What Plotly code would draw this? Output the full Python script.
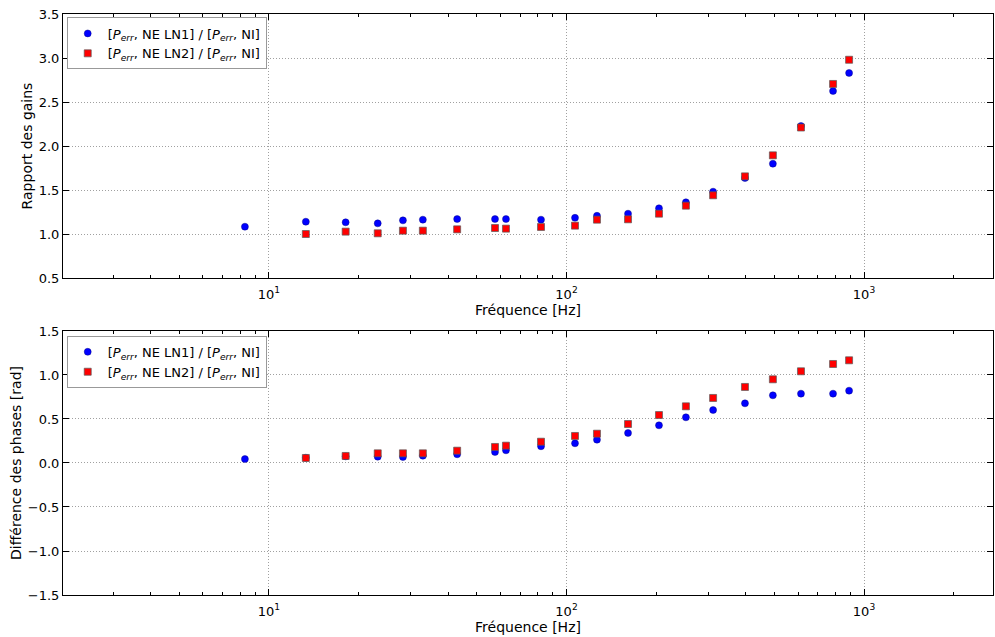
import plotly.graph_objects as go
from plotly.subplots import make_subplots

# Frequencies [Hz]
freq_ln1 = [8.3, 13.3, 18.1, 23.2, 28.2, 32.9, 42.9, 57.5, 62.6, 82.1, 106.8, 126.6,
            161, 204.6, 252, 311, 398, 494, 614, 787, 891]
freq_ln2 = freq_ln1[1:]

# Gain ratio
gain_ln1 = [1.083, 1.14, 1.133, 1.121, 1.155, 1.163, 1.17, 1.17, 1.17, 1.163, 1.184, 1.207,
            1.231, 1.292, 1.36, 1.481, 1.636, 1.799, 2.227, 2.625, 2.83]
gain_ln2 = [1.0, 1.027, 1.008, 1.038, 1.038, 1.053, 1.068, 1.061, 1.08, 1.095, 1.163,
            1.167, 1.231, 1.322, 1.44, 1.655, 1.894, 2.21, 2.705, 2.98]

# Phase difference [rad]
phase_ln1 = [0.045, 0.06, 0.075, 0.072, 0.068, 0.083, 0.099, 0.125, 0.144, 0.19, 0.224, 0.265,
             0.341, 0.428, 0.519, 0.602, 0.678, 0.769, 0.788, 0.788, 0.822]
phase_ln2 = [0.057, 0.08, 0.11, 0.11, 0.11, 0.14, 0.182, 0.197, 0.242, 0.307, 0.333,
             0.443, 0.545, 0.644, 0.739, 0.864, 0.951, 1.042, 1.125, 1.167]

# X tick labels
x_tickvals = [10, 100, 1000]
x_ticktext = ["10<sup>1</sup>", "10<sup>2</sup>", "10<sup>3</sup>"]

name1 = "[<i>P</i><sub><i>err</i></sub>, NE LN1] / [<i>P</i><sub><i>err</i></sub>, NI]"
name2 = "[<i>P</i><sub><i>err</i></sub>, NE LN2] / [<i>P</i><sub><i>err</i></sub>, NI]"

FONT = "DejaVu Sans"

fig = make_subplots(rows=2, cols=1, vertical_spacing=0.0912)

blue_marker = dict(symbol="circle", size=7, color="#0000ff", line=dict(width=0.7, color="rgba(0,0,120,0.6)"))
red_marker = dict(symbol="square", size=7, color="#ff0000", line=dict(width=1, color="rgba(90,90,90,0.7)"))

fig.add_trace(go.Scatter(x=freq_ln1, y=gain_ln1, mode="markers", marker=blue_marker,
                         name=name1, legend="legend"), row=1, col=1)
fig.add_trace(go.Scatter(x=freq_ln2, y=gain_ln2, mode="markers", marker=red_marker,
                         name=name2, legend="legend"), row=1, col=1)
fig.add_trace(go.Scatter(x=freq_ln1, y=phase_ln1, mode="markers", marker=blue_marker,
                         name=name1, legend="legend2"), row=2, col=1)
fig.add_trace(go.Scatter(x=freq_ln2, y=phase_ln2, mode="markers", marker=red_marker,
                         name=name2, legend="legend2"), row=2, col=1)

GRID = dict(showgrid=True, gridcolor="#a0a0a0", griddash="1px,2px", gridwidth=1)

xaxis_common = dict(
    type="log", range=[0.3076, 3.4336], tickvals=x_tickvals, ticktext=x_ticktext,
    showline=True, linecolor="black", linewidth=1, mirror="ticks",
    ticks="inside", ticklen=6, tickcolor="black", automargin=False, ticklabelstandoff=4,
    minor=dict(ticks="inside", ticklen=3, tickcolor="black", dtick="D1", showgrid=False),
    zeroline=False, tickfont=dict(family=FONT, size=13, color="black"),
    title=dict(text="Fréquence [Hz]", font=dict(family=FONT, size=14, color="black"), standoff=2),
    **GRID,
)
yaxis_common = dict(
    showline=True, linecolor="black", linewidth=1, mirror="ticks",
    ticks="inside", ticklen=6, tickcolor="black", dtick=0.5, tickformat=".1f",
    zeroline=False, tickfont=dict(family=FONT, size=13, color="black"), automargin=False,
    **GRID,
)

fig.update_xaxes(**xaxis_common, row=1, col=1)
fig.update_xaxes(**xaxis_common, row=2, col=1)
fig.update_yaxes(**yaxis_common, range=[0.5, 3.5],
                 title=dict(text="Rapport des gains", font=dict(family=FONT, size=14, color="black"), standoff=2),
                 row=1, col=1)
fig.update_yaxes(**yaxis_common, range=[-1.5, 1.5],
                 title=dict(text="Différence des phases [rad]", font=dict(family=FONT, size=14, color="black"), standoff=2),
                 row=2, col=1)

fig.update_xaxes(domain=[0, 1])
fig.layout.yaxis.domain = [0.5456, 1.0]
fig.layout.yaxis2.domain = [0.0, 0.4544]

legend_style = dict(bgcolor="white", bordercolor="#999999", borderwidth=1,
                    font=dict(family=FONT, size=13, color="black"),
                    xanchor="left", yanchor="top", tracegroupgap=0, itemwidth=30)
fig.update_layout(
    width=995, height=637,
    margin=dict(l=63, r=2, t=14, b=42, autoexpand=False),
    paper_bgcolor="white", plot_bgcolor="white",
    showlegend=True,
    legend=dict(**legend_style, x=0.004, y=0.994),
    legend2=dict(**legend_style, x=0.004, y=0.446),
    font=dict(family=FONT, size=13, color="black"),
)

fig.write_html("out.html", config={"displayModeBar": False},
               post_script="document.body.style.margin='0';document.body.style.overflow='hidden';")
